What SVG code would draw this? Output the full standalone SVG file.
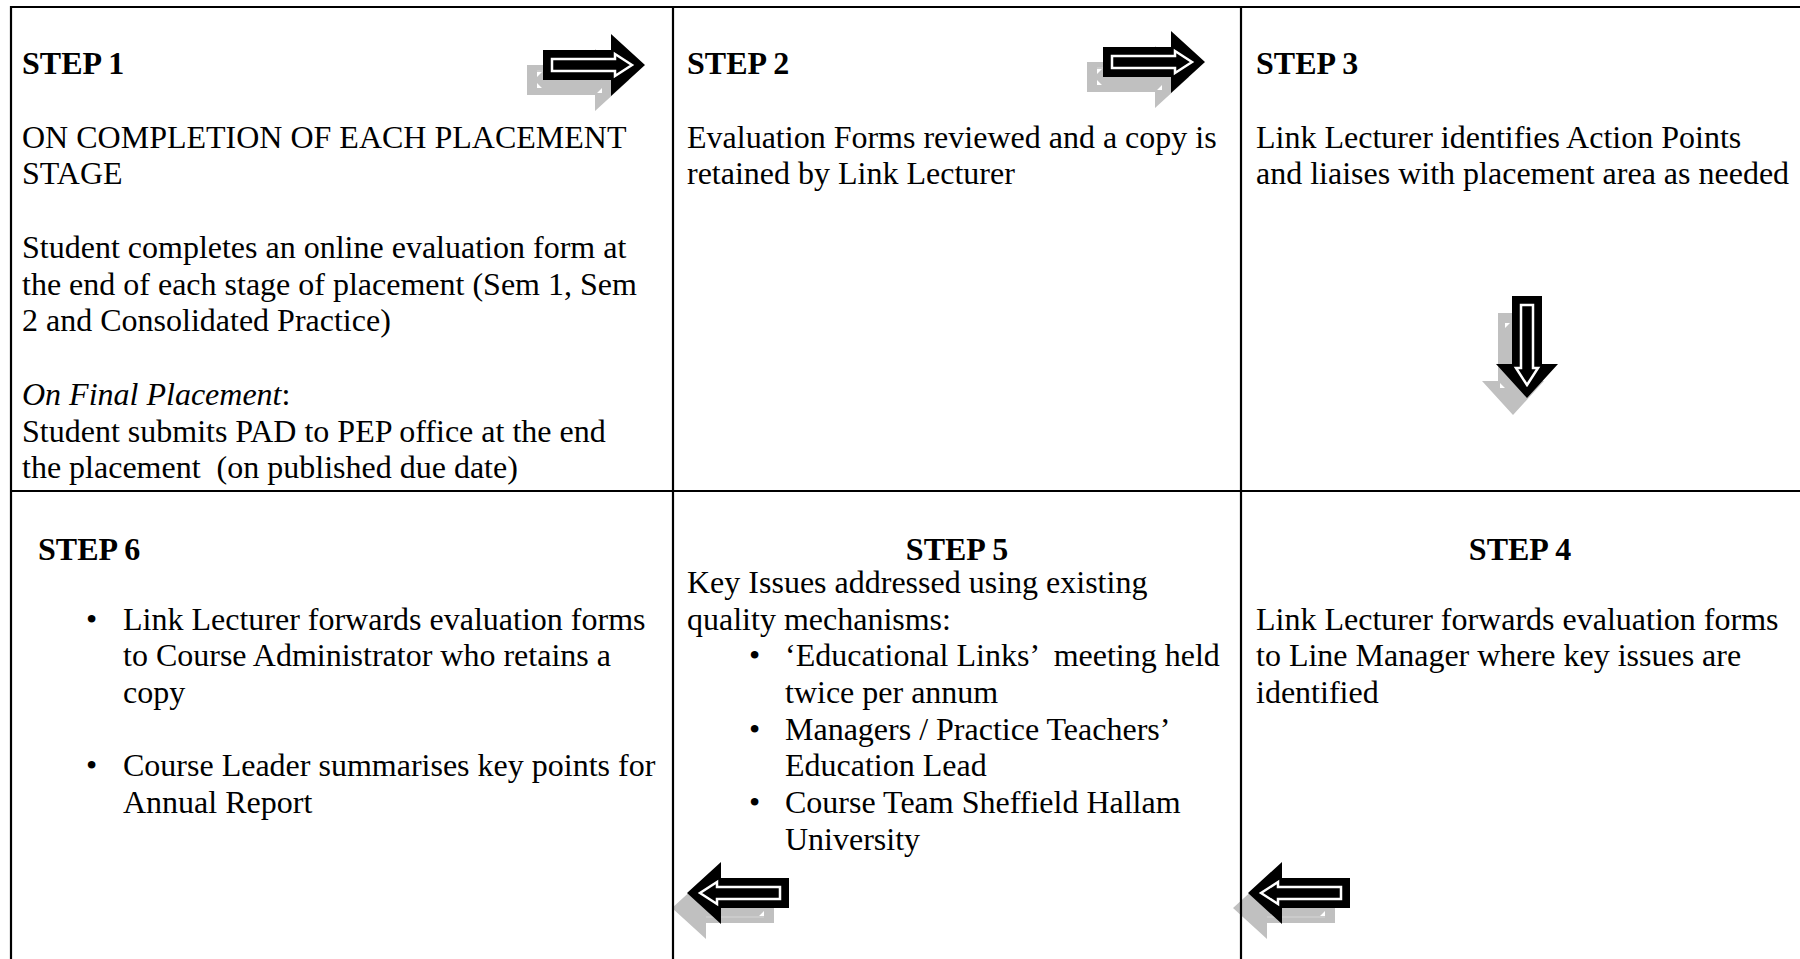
<svg xmlns="http://www.w3.org/2000/svg" xmlns:xlink="http://www.w3.org/1999/xlink" width="1800" height="959" viewBox="0 0 1800 959">
  <style>
    text { font-family: "Liberation Serif", "Times New Roman", serif; font-size: 32px; fill: #000; white-space: pre; }
    .h { font-weight: bold; }
    .it { font-style: italic; }
    .grid { stroke: #000; stroke-width: 2.2; fill: none; }
  </style>
  <defs>
    <!-- block arrow pointing right, tip at the origin -->
    <path id="arrowShape" d="M0,0 L-34,-31 L-34,-15 L-102,-15 L-102,15 L-34,15 L-34,31 Z"/>
    <g id="arrowShadow">
      <use xlink:href="#arrowShape" fill="#c0c0c0"/>
      <path d="M-92,-8 L-87,-8 L-92,-3 Z M-92,8 L-87,8 L-92,3 Z M-32,13 L-27,8 L-27,13 Z" fill="#fff"/>
      <path d="M-92,-9 L-34,-9" stroke="#d6d6d6" stroke-width="1"/>
    </g>
    <g id="arrowBody">
      <use xlink:href="#arrowShape" fill="#000"/>
      <path d="M-13,0 L-30,-11 L-30,-6 L-93,-6 L-93,6 L-30,6 L-30,11 Z" fill="#000" stroke="#fff" stroke-width="2.5" stroke-linejoin="miter"/>
    </g>
  </defs>

  <rect width="1800" height="959" fill="#fff"/>

  <!-- flow arrows between the steps -->
  <g id="connectors">
    <g id="arrow-1-2">
      <use xlink:href="#arrowShadow" transform="translate(629,80)"/>
      <use xlink:href="#arrowBody" transform="translate(645,65)"/>
    </g>
    <g id="arrow-2-3">
      <use xlink:href="#arrowShadow" transform="translate(1189,77)"/>
      <use xlink:href="#arrowBody" transform="translate(1205,62)"/>
    </g>
    <g id="arrow-3-4">
      <use xlink:href="#arrowShadow" transform="translate(1513,415) rotate(90)"/>
      <use xlink:href="#arrowBody" transform="translate(1527,398) rotate(90)"/>
    </g>
    <g id="arrow-4-5">
      <use xlink:href="#arrowShadow" transform="translate(1233,908) rotate(180)"/>
      <use xlink:href="#arrowBody" transform="translate(1248,893) rotate(180)"/>
    </g>
    <g id="arrow-5-6">
      <use xlink:href="#arrowShadow" transform="translate(672,908) rotate(180)"/>
      <use xlink:href="#arrowBody" transform="translate(687,893) rotate(180)"/>
    </g>
  </g>

  <!-- table rules -->
  <g id="grid" class="grid">
    <line x1="10" y1="7" x2="1800" y2="7"/>
    <line x1="11" y1="6" x2="11" y2="959"/>
    <line x1="673" y1="6" x2="673" y2="959"/>
    <line x1="1241" y1="6" x2="1241" y2="959"/>
    <line x1="10" y1="491" x2="1800" y2="491"/>
  </g>

  <g id="step1">
    <text class="h" x="22" y="74">STEP 1</text>
    <text x="22" y="148">ON COMPLETION OF EACH PLACEMENT</text>
    <text x="22" y="184">STAGE</text>
    <text x="22" y="258">Student completes an online evaluation form at</text>
    <text x="22" y="295">the end of each stage of placement (Sem 1, Sem</text>
    <text x="22" y="331">2 and Consolidated Practice)</text>
    <text x="22" y="405"><tspan class="it">On Final Placement</tspan>:</text>
    <text x="22" y="442">Student submits PAD to PEP office at the end</text>
    <text x="22" y="478">the placement  (on published due date)</text>
  </g>

  <g id="step2">
    <text class="h" x="687" y="74">STEP 2</text>
    <text x="687" y="148">Evaluation Forms reviewed and a copy is</text>
    <text x="687" y="184">retained by Link Lecturer</text>
  </g>

  <g id="step3">
    <text class="h" x="1256" y="74">STEP 3</text>
    <text x="1256" y="148">Link Lecturer identifies Action Points</text>
    <text x="1256" y="184">and liaises with placement area as needed</text>
  </g>

  <g id="step6">
    <text class="h" x="38" y="560">STEP 6</text>
    <text x="86" y="630">•</text>
    <text x="123" y="630">Link Lecturer forwards evaluation forms</text>
    <text x="123" y="666">to Course Administrator who retains a</text>
    <text x="123" y="703">copy</text>
    <text x="86" y="776">•</text>
    <text x="123" y="776">Course Leader summarises key points for</text>
    <text x="123" y="813">Annual Report</text>
  </g>

  <g id="step5">
    <text class="h" x="957" y="560" text-anchor="middle">STEP 5</text>
    <text x="687" y="593">Key Issues addressed using existing</text>
    <text x="687" y="630">quality mechanisms:</text>
    <text x="749" y="666">•</text>
    <text x="785" y="666">‘Educational Links’  meeting held</text>
    <text x="785" y="703">twice per annum</text>
    <text x="749" y="740">•</text>
    <text x="785" y="740">Managers / Practice Teachers’</text>
    <text x="785" y="776">Education Lead</text>
    <text x="749" y="813">•</text>
    <text x="785" y="813">Course Team Sheffield Hallam</text>
    <text x="785" y="850">University</text>
  </g>

  <g id="step4">
    <text class="h" x="1520" y="560" text-anchor="middle">STEP 4</text>
    <text x="1256" y="630">Link Lecturer forwards evaluation forms</text>
    <text x="1256" y="666">to Line Manager where key issues are</text>
    <text x="1256" y="703">identified</text>
  </g>
</svg>
